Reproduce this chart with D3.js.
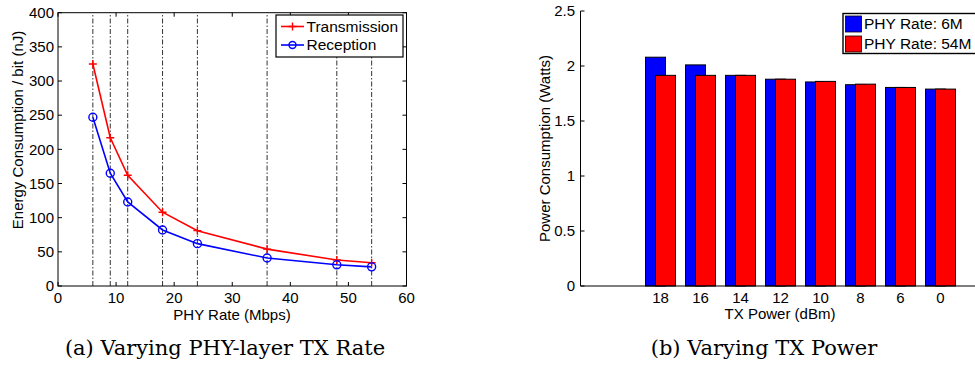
<!DOCTYPE html>
<html><head><meta charset="utf-8">
<script src="https://cdn.jsdelivr.net/npm/d3@7"></script>
<style>body{margin:0;background:#fff}svg{display:block}</style>
</head><body>
<svg id="c" width="975" height="372"></svg>
<script>
// ---- Data: chart (a)
const phyRates = [6, 9, 12, 18, 24, 36, 48, 54];
const transmission = [325, 217, 162, 108, 81, 54, 38, 34];
const reception = [247, 165, 123, 82, 62, 41, 31, 28];
const aXTicks = [0, 10, 20, 30, 40, 50, 60];
const aYTicks = [0, 50, 100, 150, 200, 250, 300, 350, 400];
const aSeriesNames = ["Transmission", "Reception"];

// ---- Data: chart (b)
const txPowers = ["18", "16", "14", "12", "10", "8", "6", "0"];
const power6M = [2.08, 2.01, 1.915, 1.88, 1.855, 1.83, 1.805, 1.79];
const power54M = [1.915, 1.915, 1.915, 1.88, 1.86, 1.835, 1.805, 1.79];
const bYTicks = [0, 0.5, 1, 1.5, 2, 2.5];
const bSeriesNames = ["PHY Rate: 6M", "PHY Rate: 54M"];

const svg = d3.select("#c");
const SANS = "'Liberation Sans', Arial, sans-serif";
const SERIF = "'DejaVu Serif', 'Liberation Serif', serif";
const FS = 15;

// ================= Chart (a) =================
const ax = d3.scaleLinear().domain([0, 60]).range([58, 406.5]);
const ay = d3.scaleLinear().domain([0, 400]).range([286, 12.7]);
const ga = svg.append("g");

// vertical dash-dot lines at each rate
ga.selectAll("line.vg").data(phyRates).join("line")
  .attr("x1", d => ax(d)).attr("x2", d => ax(d))
  .attr("y1", ay(0)).attr("y2", ay(400))
  .attr("stroke", "#333").attr("stroke-width", 1)
  .attr("stroke-dasharray", "5,2,1.5,2");

// box
ga.append("rect").attr("x", ax(0)).attr("y", ay(400))
  .attr("width", ax(60) - ax(0)).attr("height", ay(0) - ay(400))
  .attr("fill", "none").attr("stroke", "#000").attr("stroke-width", 1);

// ticks inside (all four sides)
const tl = 4;
ga.selectAll("line.xtb").data(aXTicks).join("line")
  .attr("x1", d => ax(d)).attr("x2", d => ax(d)).attr("y1", ay(0)).attr("y2", ay(0) - tl)
  .attr("stroke", "#000");
ga.selectAll("line.xtt").data(aXTicks).join("line")
  .attr("x1", d => ax(d)).attr("x2", d => ax(d)).attr("y1", ay(400)).attr("y2", ay(400) + tl)
  .attr("stroke", "#000");
ga.selectAll("line.ytl").data(aYTicks).join("line")
  .attr("x1", ax(0)).attr("x2", ax(0) + tl).attr("y1", d => ay(d)).attr("y2", d => ay(d))
  .attr("stroke", "#000");
ga.selectAll("line.ytr").data(aYTicks).join("line")
  .attr("x1", ax(60)).attr("x2", ax(60) - tl).attr("y1", d => ay(d)).attr("y2", d => ay(d))
  .attr("stroke", "#000");

// tick labels
ga.selectAll("text.xl").data(aXTicks).join("text")
  .attr("x", d => ax(d)).attr("y", 298).attr("dy", "0.35em")
  .attr("text-anchor", "middle").attr("font-family", SANS).attr("font-size", FS)
  .text(d => d);
ga.selectAll("text.yl").data(aYTicks).join("text")
  .attr("x", 54).attr("y", d => ay(d)).attr("dy", "0.35em")
  .attr("text-anchor", "end").attr("font-family", SANS).attr("font-size", FS)
  .text(d => d);

// axis titles
ga.append("text").attr("x", 232).attr("y", 315).attr("dy", "0.35em")
  .attr("text-anchor", "middle").attr("font-family", SANS).attr("font-size", FS)
  .text("PHY Rate (Mbps)");
ga.append("text").attr("transform", "translate(18,130) rotate(-90)").attr("dy", "0.35em")
  .attr("text-anchor", "middle").attr("font-family", SANS).attr("font-size", FS)
  .text("Energy Consumption / bit (nJ)");

// lines
const lineGen = vals => d3.line().x((d, i) => ax(phyRates[i])).y(d => ay(d))(vals);
ga.append("path").attr("d", lineGen(transmission)).attr("fill", "none")
  .attr("stroke", "#ff0000").attr("stroke-width", 1.6);
ga.append("path").attr("d", lineGen(reception)).attr("fill", "none")
  .attr("stroke", "#0000ff").attr("stroke-width", 1.6);

// markers
const ms = 4;
ga.selectAll("path.plus").data(transmission).join("path")
  .attr("d", (d, i) => {
    const x = ax(phyRates[i]), y = ay(d);
    return `M${x - ms},${y}H${x + ms}M${x},${y - ms}V${y + ms}`;
  })
  .attr("stroke", "#ff0000").attr("stroke-width", 1.4).attr("fill", "none");
ga.selectAll("circle.rc").data(reception).join("circle")
  .attr("cx", (d, i) => ax(phyRates[i])).attr("cy", d => ay(d)).attr("r", 4)
  .attr("stroke", "#0000ff").attr("stroke-width", 1.4).attr("fill", "none");

// legend (a)
const la = ga.append("g");
la.append("rect").attr("x", 276).attr("y", 15).attr("width", 127).attr("height", 42)
  .attr("fill", "#fff").attr("stroke", "#000").attr("stroke-width", 1.2);
const laRows = [26.5, 45];
aSeriesNames.forEach((name, i) => {
  const y = laRows[i];
  const col = i === 0 ? "#ff0000" : "#0000ff";
  la.append("line").attr("x1", 281).attr("x2", 304).attr("y1", y).attr("y2", y)
    .attr("stroke", col).attr("stroke-width", 1.6);
  if (i === 0) {
    la.append("path").attr("d", `M${292.5 - ms},${y}H${292.5 + ms}M292.5,${y - ms}V${y + ms}`)
      .attr("stroke", col).attr("stroke-width", 1.4);
  } else {
    la.append("circle").attr("cx", 292.5).attr("cy", y).attr("r", 3.5)
      .attr("stroke", col).attr("stroke-width", 1.4).attr("fill", "none");
  }
  la.append("text").attr("x", 306.5).attr("y", y).attr("dy", "0.35em")
    .attr("font-family", SANS).attr("font-size", 15.5).text(name);
});

// caption (a)
svg.append("text").attr("x", 225).attr("y", 355).attr("text-anchor", "middle")
  .attr("font-family", SERIF).attr("font-size", 21).text("(a) Varying PHY-layer TX Rate");

// ================= Chart (b) =================
const bx = d3.scaleLinear().domain([-1, 10]).range([580.5, 1020.5]);
const by = d3.scaleLinear().domain([0, 2.5]).range([286, 11]);
const gb = svg.append("g");
const bw = 0.5, off = 0.125;

gb.selectAll("rect.b6").data(power6M).join("rect")
  .attr("x", (d, i) => bx(i + 1 - off - bw / 2)).attr("width", bx(bw) - bx(0))
  .attr("y", d => by(d)).attr("height", d => by(0) - by(d))
  .attr("fill", "#0000ff").attr("stroke", "#000").attr("stroke-width", 1);
gb.selectAll("rect.b54").data(power54M).join("rect")
  .attr("x", (d, i) => bx(i + 1 + off - bw / 2)).attr("width", bx(bw) - bx(0))
  .attr("y", d => by(d)).attr("height", d => by(0) - by(d))
  .attr("fill", "#ff0000").attr("stroke", "#000").attr("stroke-width", 1);

// axes lines
gb.append("line").attr("x1", bx(-1)).attr("x2", 975).attr("y1", by(0)).attr("y2", by(0))
  .attr("stroke", "#000").attr("stroke-width", 1.2);
gb.append("line").attr("x1", bx(-1)).attr("x2", bx(-1)).attr("y1", by(0)).attr("y2", by(2.5))
  .attr("stroke", "#000").attr("stroke-width", 1);
gb.selectAll("line.yt").data(bYTicks).join("line")
  .attr("x1", bx(-1)).attr("x2", bx(-1) + tl).attr("y1", d => by(d)).attr("y2", d => by(d))
  .attr("stroke", "#000");

gb.selectAll("text.yl").data(bYTicks).join("text")
  .attr("x", 575).attr("y", d => by(d)).attr("dy", "0.35em")
  .attr("text-anchor", "end").attr("font-family", SANS).attr("font-size", FS)
  .text(d => d);
gb.selectAll("text.xl").data(txPowers).join("text")
  .attr("x", (d, i) => bx(i + 1)).attr("y", 297.5).attr("dy", "0.35em")
  .attr("text-anchor", "middle").attr("font-family", SANS).attr("font-size", FS)
  .text(d => d);

gb.append("text").attr("x", 780).attr("y", 314).attr("dy", "0.35em")
  .attr("text-anchor", "middle").attr("font-family", SANS).attr("font-size", FS)
  .text("TX Power (dBm)");
gb.append("text").attr("transform", "translate(545,148.5) rotate(-90)").attr("dy", "0.35em")
  .attr("text-anchor", "middle").attr("font-family", SANS).attr("font-size", FS)
  .text("Power Consumption (Watts)");

// legend (b)
const lb = gb.append("g");
lb.append("rect").attr("x", 843).attr("y", 13.5).attr("width", 150).attr("height", 40)
  .attr("fill", "#fff").attr("stroke", "#000").attr("stroke-width", 1.4);
const lbRows = [16, 36];
bSeriesNames.forEach((name, i) => {
  const col = i === 0 ? "#0000ff" : "#ff0000";
  lb.append("rect").attr("x", 845.5).attr("y", lbRows[i]).attr("width", 16).attr("height", 16)
    .attr("fill", col).attr("stroke", "#000").attr("stroke-width", 0.8);
  lb.append("text").attr("x", 864).attr("y", lbRows[i] + 8).attr("dy", "0.35em")
    .attr("font-family", SANS).attr("font-size", 15.5).text(name);
});

// caption (b)
svg.append("text").attr("x", 764).attr("y", 355).attr("text-anchor", "middle")
  .attr("font-family", SERIF).attr("font-size", 21).text("(b) Varying TX Power");
</script>
</body></html>
